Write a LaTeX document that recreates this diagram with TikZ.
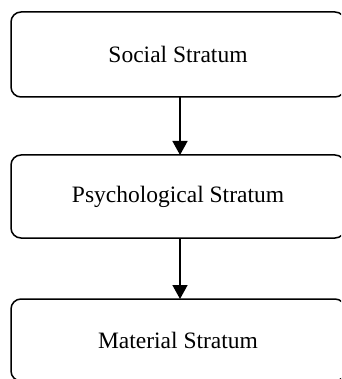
\documentclass[tikz,border=0pt]{standalone}
\usepackage{fontspec}
\setmainfont{Liberation Serif}
\usetikzlibrary{arrows.meta}
\begin{document}
\begin{tikzpicture}[x=1pt,y=-1pt,
  stratum/.style={draw, line width=1.5pt, rounded corners=10pt, inner sep=0pt, outer sep=0pt,
    minimum width=334pt, minimum height=85pt, font=\fontsize{23.5}{28}\selectfont},
  flow/.style={line width=1.6pt, -{Triangle[length=14pt,width=15pt]}}]
\useasboundingbox (0,0) rectangle (341,379);
\clip (0,0) rectangle (341,379);
\node[stratum] (b1) at (178,54.5) {Social Stratum};
\node[stratum, minimum height=83pt] (b2) at (178,196.5) {Psychological Stratum};
\node[stratum, minimum height=82pt] (b3) at (178,340) {Material Stratum};
\draw[flow] ([xshift=2pt]b1.south) -- ([xshift=2pt]b2.north);
\draw[flow] ([xshift=2pt]b2.south) -- ([xshift=2pt]b3.north);
\end{tikzpicture}
\end{document}
